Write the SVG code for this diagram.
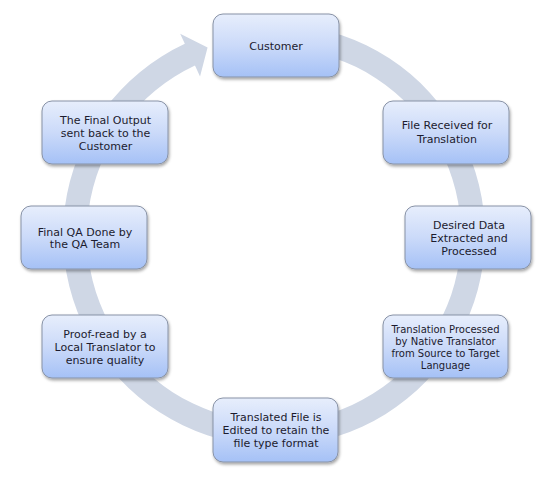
<svg xmlns="http://www.w3.org/2000/svg" width="556" height="482" viewBox="0 0 556 482">
<defs>
<linearGradient id="boxFill" x1="0" y1="0" x2="0" y2="1">
<stop offset="0" stop-color="#e7eefc"/>
<stop offset="0.5" stop-color="#cbdaf9"/>
<stop offset="1" stop-color="#a5c1f6"/>
</linearGradient>
<filter id="shadow" x="-10%" y="-10%" width="125%" height="130%">
<feDropShadow dx="1" dy="2" stdDeviation="1.5" flood-color="#000" flood-opacity="0.35"/>
</filter>
</defs>
<style>
.box{fill:url(#boxFill);stroke:#8792a6;stroke-width:1;filter:url(#shadow)}
.t{font-family:"DejaVu Sans","Liberation Sans",sans-serif;font-size:11px;fill:#1c1b2e;text-anchor:middle}
.s{font-size:10px}
.ring{fill:#cfd7e5}
</style>
<rect width="556" height="482" fill="#ffffff"/>
<g id="connectors">
<path class="ring" d="M237.36,27.21 A211,211 0 1 1 184.83,43.77 L180.18,33.80 L207.57,47.41 L200.04,76.40 L194.97,65.52 A187,187 0 1 0 241.53,50.84 Z"/>
</g>
<g id="customer">
<rect class="box" x="213" y="14" width="126" height="63" rx="10"/>
<text class="t" x="276" y="50">Customer</text>
</g>
<g id="file-received">
<rect class="box" x="383" y="101" width="126" height="63" rx="10"/>
<text class="t" x="447" y="129">File Received for</text>
<text class="t" x="447" y="143">Translation</text>
</g>
<g id="desired-data">
<rect class="box" x="405" y="206" width="126" height="63" rx="10"/>
<text class="t" x="469" y="229">Desired Data</text>
<text class="t" x="469" y="242">Extracted and</text>
<text class="t" x="469" y="255">Processed</text>
</g>
<g id="translation-processed">
<rect class="box" x="383" y="315" width="125" height="63" rx="10"/>
<text class="t s" x="445.5" y="333">Translation Processed</text>
<text class="t s" x="445.5" y="345">by Native Translator</text>
<text class="t s" x="445.5" y="357">from Source to Target</text>
<text class="t s" x="445.5" y="368.5">Language</text>
</g>
<g id="translated-file">
<rect class="box" x="213" y="398" width="125" height="64" rx="10"/>
<text class="t" x="276" y="421">Translated File is</text>
<text class="t" x="276" y="434">Edited to retain the</text>
<text class="t" x="276" y="447">file type format</text>
</g>
<g id="proof-read">
<rect class="box" x="42" y="315" width="126" height="63" rx="10"/>
<text class="t" x="105" y="338">Proof-read by a</text>
<text class="t" x="105" y="351">Local Translator to</text>
<text class="t" x="105" y="364">ensure quality</text>
</g>
<g id="final-qa">
<rect class="box" x="21" y="206" width="126" height="63" rx="10"/>
<text class="t" x="85" y="236">Final QA Done by</text>
<text class="t" x="85" y="248">the QA Team</text>
</g>
<g id="final-output">
<rect class="box" x="42" y="101" width="126" height="63" rx="10"/>
<text class="t" x="105.5" y="124">The Final Output</text>
<text class="t" x="105.5" y="137">sent back to the</text>
<text class="t" x="105.5" y="150">Customer</text>
</g>
</svg>
